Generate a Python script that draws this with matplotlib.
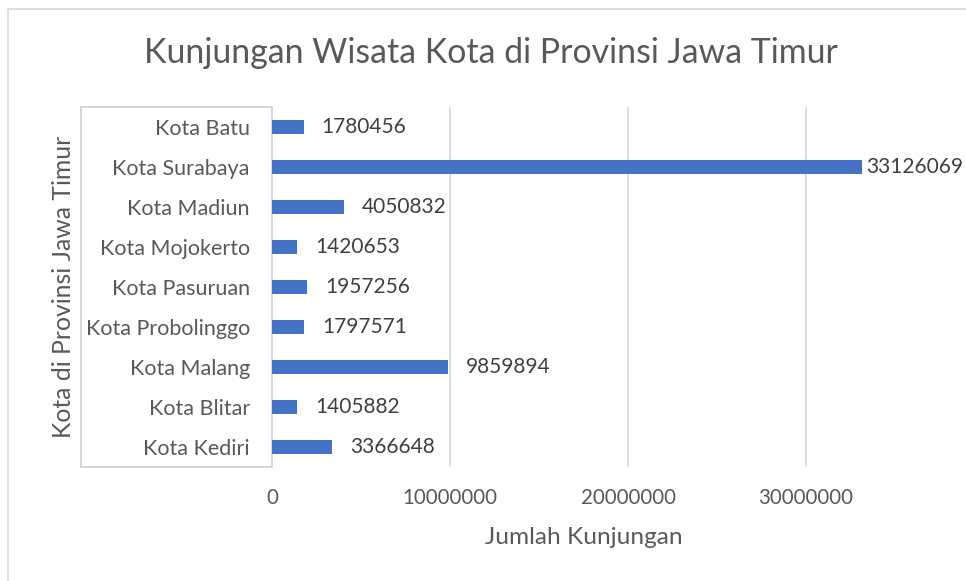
import matplotlib.pyplot as plt
from matplotlib.patches import Rectangle

# data (bottom to top as drawn by barh)
kota = ['Kota Kediri', 'Kota Blitar', 'Kota Malang', 'Kota Probolinggo',
        'Kota Pasuruan', 'Kota Mojokerto', 'Kota Madiun', 'Kota Surabaya',
        'Kota Batu']
kunjungan = [3366648, 1405882, 9859894, 1797571, 1957256, 1420653,
             4050832, 33126069, 1780456]
x_ticks = [0, 10000000, 20000000, 30000000]
x_max = 40000000

plt.rcParams['font.family'] = ['Lato', 'DejaVu Sans']
text_col = '#595959'

W, H = 966, 581
fig = plt.figure(figsize=(W / 100, H / 100), dpi=100)

# chart area border (cropped on right/bottom)
fig.patches.append(Rectangle((8 / W, -0.1), 1.2, 1 - 9 / H + 0.1,
                             transform=fig.transFigure, fill=False,
                             edgecolor='#D9D9D9', linewidth=1.2))

ax = fig.add_axes([272 / W, 1 - 467 / H, 712 / W, 360 / H])
ax.barh(range(len(kota)), kunjungan, height=0.35, color='#4472C4', zorder=3)
ax.set_xlim(0, x_max)
ax.set_ylim(-0.5, len(kota) - 0.5)
ax.set_xticks(x_ticks + [x_max])
ax.set_xticklabels([str(t) for t in x_ticks] + [''])
ax.set_yticks(range(len(kota)))
ax.set_yticklabels(kota)
ax.tick_params(axis='x', length=0, labelsize=14.8, colors=text_col, pad=15)
ax.tick_params(axis='y', length=0, labelsize=15.5, colors=text_col, pad=16)
ax.grid(axis='x', color='#D9D9D9', linewidth=1.2, zorder=0)
for s in ax.spines.values():
    s.set_visible(False)

biggest = max(kunjungan)
for i, v in enumerate(kunjungan):
    off = 3 if v == biggest else 13
    ax.annotate(str(v), (v, i), xytext=(off, 0), textcoords='offset points',
                va='center', ha='left', fontsize=15, color='#404040')

# white box behind category labels
fig.patches.append(Rectangle((81 / W, 1 - 467 / H), 191 / W, 360 / H,
                             transform=fig.transFigure, facecolor='white',
                             edgecolor='#D0D0D0', linewidth=1.2, zorder=0))
ax.set_zorder(2)
ax.patch.set_alpha(0)

fig.text(491 / W, 1 - 53 / H, 'Kunjungan Wisata Kota di Provinsi Jawa Timur',
         ha='center', va='center', fontsize=24.4, color=text_col)
fig.text(64 / W, 1 - 287 / H, 'Kota di Provinsi Jawa Timur', rotation=90,
         ha='center', va='center', fontsize=17.8, color=text_col)
fig.text(584 / W, 1 - 537 / H, 'Jumlah Kunjungan', ha='center', va='center',
         fontsize=17.6, color=text_col)

fig.savefig('out.png', dpi=100, facecolor='white')
